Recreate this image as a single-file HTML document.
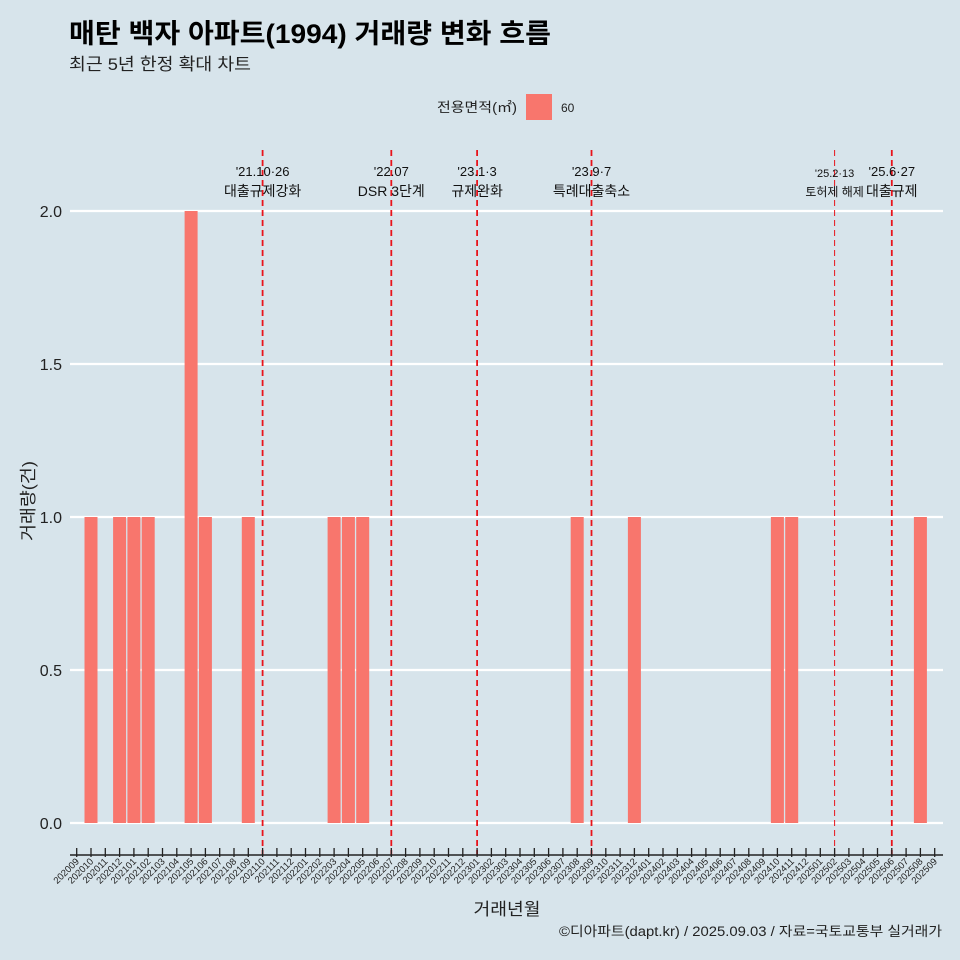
<!DOCTYPE html>
<html><head><meta charset="utf-8"><style>
body{margin:0;background:#d7e4eb;}
svg{display:block;font-family:"Liberation Sans","Noto Sans CJK KR",sans-serif;}
</style></head><body>
<svg id="chart" width="960" height="960" viewBox="0 0 960 960" xmlns="http://www.w3.org/2000/svg">
<rect width="960" height="960" fill="#d7e4eb"/>
<text x="69" y="43" font-size="27" font-weight="bold" fill="#000" textLength="482" lengthAdjust="spacingAndGlyphs">매탄 백자 아파트(1994) 거래량 변화 흐름</text>
<text x="69" y="70" font-size="17" fill="#222" textLength="182" lengthAdjust="spacingAndGlyphs">최근 5년 한정 확대 차트</text>
<g>
<text x="517" y="112" font-size="13.5" text-anchor="end" fill="#222" textLength="80" lengthAdjust="spacingAndGlyphs">전용면적(㎡)</text>
<rect x="526" y="94" width="26" height="26" fill="#f8766d"/>
<text x="561" y="112" font-size="12" fill="#222">60</text>
</g>
<g id="grid"></g><g id="bars"></g><g id="vlines"></g><g id="xaxis"></g><g id="yaxis"></g>
<text x="507" y="915" font-size="17" text-anchor="middle" fill="#222" textLength="67" lengthAdjust="spacingAndGlyphs">거래년월</text>
<text transform="translate(34,501) rotate(-90)" font-size="17" text-anchor="middle" fill="#222" textLength="80" lengthAdjust="spacingAndGlyphs">거래량(건)</text>
<text x="942" y="936" font-size="13.5" text-anchor="end" fill="#222" textLength="383" lengthAdjust="spacingAndGlyphs">©디아파트(dapt.kr) / 2025.09.03 / 자료=국토교통부 실거래가</text>
</svg>
<script>
const categories=[];
for(let y=2020;y<=2025;y++)for(let m=1;m<=12;m++){const c=y*100+m;if(c>=202009&&c<=202509)categories.push(String(c));}
const barCats=["202010","202012","202101","202102","202105","202106","202109","202203","202204","202205","202308","202312","202410","202411","202508"];
const barValues=[1,1,1,1,2,1,1,1,1,1,1,1,1,1,1];
const yTicks=[0,0.5,1,1.5,2];
const yTickLabels=["0.0","0.5","1.0","1.5","2.0"];
const eventCats=["202110","202207","202301","202309","202502","202506"];
const eventDates=["'21.10·26","'22.07","'23.1·3","'23.9·7","'25.2·13","'25.6·27"];
const eventLabels=["대출규제강화","DSR 3단계","규제완화","특례대출축소","토허제 해제","대출규제"];
const NS="http://www.w3.org/2000/svg";
const x=c=>76.7+categories.indexOf(c)*14.3;
const y=v=>823-v*306;
function mk(tag,attrs,parent,text){const e=document.createElementNS(NS,tag);for(const k in attrs)e.setAttribute(k,attrs[k]);if(text!==undefined)e.textContent=text;document.getElementById(parent).appendChild(e);return e;}
yTicks.forEach((t,i)=>{
 const l=mk('line',{x1:70,x2:943,y1:y(t),y2:y(t),stroke:'#fff','stroke-width':2.2},'grid');
 
 
 const tx=mk('text',{x:62,y:y(t)+6,'font-size':16,'text-anchor':'end',fill:'#222'},'yaxis',yTickLabels[i]);
 
 
});
barCats.forEach((c,i)=>{
 const r=mk('rect',{x:x(c)-6.5,y:y(barValues[i]),width:13,height:y(0)-y(barValues[i]),fill:'#f8766d'},'bars');
 
 
});
eventCats.forEach((c,i)=>{
 const small=c==="202502";
 const l=mk('line',{x1:x(c),x2:x(c),y1:150,y2:855,stroke:'#e8141b','stroke-width':small?1:1.8,'stroke-dasharray':'6,4'},'vlines');
 
 
 const fs=small?11:13;
 const d=mk('text',{x:x(c),y:small?177:176,'font-size':fs,'text-anchor':'middle',fill:'#111'},'vlines',eventDates[i]);
 
 
 const t=mk('text',{x:x(c),y:196,'font-size':fs+1,'text-anchor':'middle',fill:'#111'},'vlines',eventLabels[i]);
 
 
});
const ax=mk('line',{x1:70,x2:943,y1:855,y2:855,stroke:'#222','stroke-width':1.5},'xaxis');


categories.forEach(c=>{
 const t=mk('line',{x1:x(c),x2:x(c),y1:848,y2:857,stroke:'#222','stroke-width':1.3},'xaxis');
 
 
 const tx=mk('text',{transform:`translate(${x(c)+3},862) rotate(-45)`,'font-size':9.5,'text-anchor':'end',fill:'#222'},'xaxis',c);
 
 
});
</script>
</body></html>
